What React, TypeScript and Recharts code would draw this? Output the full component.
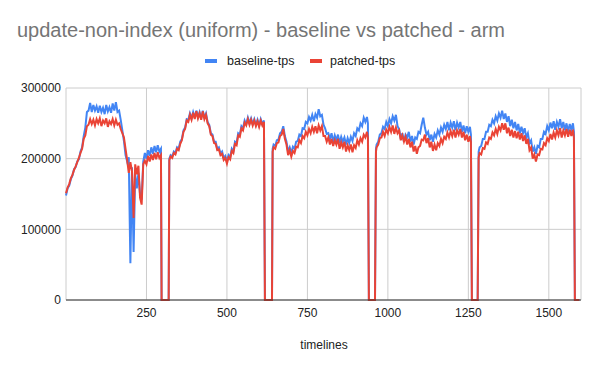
import { CartesianGrid, Line, LineChart, XAxis, YAxis } from "recharts";

const BLUE = "#4285F4";
const RED = "#EA4335";
const GRID = "#cccccc";
const TEXT = "#222222";

// x positions (timeline step), one line of runs per benchmark cycle
const timelines = [
  0, 5, 10, 15, 20, 25, 30, 35, 40, 45,
  50, 55, 60, 65, 70, 75, 80, 85, 90, 95,
  100, 105, 110, 115, 120, 125, 130, 135, 140, 145,
  150, 155, 160, 165, 170, 175, 180, 185, 190, 195,
  200, 205, 210, 215, 220, 225, 230, 235, 240, 245,
  250, 255, 260, 265, 270, 275, 280, 285, 290, 295,
  297, 319,

  321, 325, 330, 335, 340, 345, 350, 355, 360, 365,
  370, 375, 380, 385, 390, 395, 400, 405, 410, 415,
  420, 425, 430, 435, 440, 445, 450, 455, 460, 465,
  470, 475, 480, 485, 490, 495, 500, 505, 510, 515,
  520, 525, 530, 535, 540, 545, 550, 555, 560, 565,
  570, 575, 580, 585, 590, 595, 600, 605, 610, 615,
  618, 640,

  642, 645, 650, 655, 660, 665, 670, 675, 680, 685,
  690, 695, 700, 705, 710, 715, 720, 725, 730, 735,
  740, 745, 750, 755, 760, 765, 770, 775, 780, 785,
  790, 795, 800, 805, 810, 815, 820, 825, 830, 835,
  840, 845, 850, 855, 860, 865, 870, 875, 880, 885,
  890, 895, 900, 905, 910, 915, 920, 925, 930, 935,
  938, 941, 960,

  963, 965, 970, 975, 980, 985, 990, 995, 1000, 1005,
  1010, 1015, 1020, 1025, 1030, 1035, 1040, 1045, 1050, 1055,
  1060, 1065, 1070, 1075, 1080, 1085, 1090, 1095, 1100, 1105,
  1110, 1115, 1120, 1125, 1130, 1135, 1140, 1145, 1150, 1155,
  1160, 1165, 1170, 1175, 1180, 1185, 1190, 1195, 1200, 1205,
  1210, 1215, 1220, 1225, 1230, 1235, 1240, 1245, 1250, 1255,
  1258, 1261, 1279,

  1282, 1285, 1290, 1295, 1300, 1305, 1310, 1315, 1320, 1325,
  1330, 1335, 1340, 1345, 1350, 1355, 1360, 1365, 1370, 1375,
  1380, 1385, 1390, 1395, 1400, 1405, 1410, 1415, 1420, 1425,
  1430, 1435, 1440, 1445, 1450, 1455, 1460, 1465, 1470, 1475,
  1480, 1485, 1490, 1495, 1500, 1505, 1510, 1515, 1520, 1525,
  1530, 1535, 1540, 1545, 1550, 1555, 1560, 1565, 1570, 1575,
  1578, 1581, 1595,
];

const baselineTps = [
  148000, 158000, 162000, 171000, 176000, 185000, 188000, 196000, 199000, 210000,
  216000, 232000, 244000, 266000, 268000, 279000, 266000, 276000, 268000, 274000,
  265000, 275000, 266000, 272000, 263000, 276000, 267000, 273000, 265000, 278000,
  268000, 280000, 266000, 268000, 255000, 240000, 225000, 205000, 196000, 202000,
  52000, 188000, 68000, 178000, 158000, 180000, 150000, 142000, 196000, 208000,
  200000, 212000, 204000, 216000, 207000, 218000, 209000, 219000, 210000, 214000,
  0, 0,

  200000, 205000, 203000, 210000, 208000, 216000, 214000, 224000, 228000, 240000,
  244000, 256000, 255000, 264000, 257000, 266000, 258000, 268000, 259000, 266000,
  257000, 268000, 258000, 264000, 252000, 248000, 236000, 234000, 224000, 224000,
  214000, 216000, 207000, 210000, 201000, 204000, 196000, 205000, 202000, 214000,
  210000, 224000, 222000, 236000, 234000, 246000, 243000, 254000, 249000, 258000,
  250000, 257000, 249000, 256000, 248000, 255000, 247000, 256000, 249000, 254000,
  0, 0,

  214000, 220000, 218000, 226000, 227000, 236000, 238000, 246000, 232000, 224000,
  210000, 216000, 208000, 217000, 214000, 224000, 225000, 234000, 232000, 243000,
  242000, 252000, 250000, 259000, 254000, 262000, 253000, 263000, 258000, 270000,
  260000, 262000, 248000, 243000, 235000, 236000, 228000, 236000, 224000, 233000,
  226000, 234000, 222000, 231000, 224000, 230000, 220000, 229000, 222000, 231000,
  225000, 236000, 232000, 243000, 240000, 250000, 246000, 258000, 252000, 259000,
  250000, 0, 0,

  214000, 220000, 224000, 234000, 236000, 245000, 242000, 252000, 246000, 256000,
  250000, 260000, 254000, 262000, 246000, 242000, 228000, 236000, 224000, 234000,
  230000, 238000, 224000, 232000, 220000, 230000, 228000, 238000, 236000, 248000,
  258000, 244000, 234000, 238000, 226000, 234000, 224000, 235000, 230000, 240000,
  234000, 244000, 238000, 248000, 242000, 252000, 240000, 251000, 244000, 253000,
  240000, 251000, 244000, 252000, 238000, 247000, 236000, 246000, 238000, 245000,
  234000, 0, 0,

  210000, 216000, 218000, 228000, 228000, 238000, 238000, 248000, 246000, 255000,
  250000, 260000, 254000, 264000, 258000, 268000, 256000, 264000, 252000, 260000,
  246000, 255000, 243000, 252000, 240000, 249000, 236000, 245000, 236000, 243000,
  230000, 236000, 222000, 226000, 210000, 216000, 207000, 218000, 216000, 228000,
  228000, 238000, 235000, 246000, 240000, 251000, 243000, 253000, 241000, 252000,
  245000, 256000, 243000, 252000, 240000, 250000, 238000, 249000, 241000, 250000,
  238000, 0, 0,
];

const patchedTps = [
  151000, 159000, 164000, 172000, 177000, 184000, 189000, 195000, 201000, 208000,
  214000, 228000, 233000, 246000, 248000, 256000, 249000, 255000, 247000, 256000,
  250000, 257000, 246000, 254000, 250000, 257000, 245000, 253000, 249000, 256000,
  247000, 255000, 248000, 250000, 242000, 236000, 230000, 214000, 198000, 180000,
  195000, 182000, 116000, 192000, 178000, 190000, 145000, 135000, 192000, 197000,
  192000, 204000, 196000, 206000, 198000, 208000, 199000, 209000, 201000, 205000,
  0, 0,

  198000, 203000, 201000, 208000, 206000, 214000, 212000, 221000, 226000, 238000,
  242000, 254000, 252000, 262000, 255000, 265000, 256000, 267000, 257000, 264000,
  255000, 267000, 256000, 262000, 250000, 246000, 234000, 232000, 222000, 221000,
  212000, 213000, 205000, 207000, 198000, 201000, 193000, 202000, 199000, 211000,
  208000, 221000, 219000, 233000, 231000, 243000, 240000, 251000, 247000, 256000,
  248000, 255000, 247000, 254000, 246000, 253000, 245000, 254000, 247000, 252000,
  0, 0,

  210000, 216000, 214000, 222000, 223000, 232000, 234000, 242000, 228000, 220000,
  205000, 212000, 203000, 211000, 208000, 217000, 216000, 226000, 222000, 232000,
  229000, 238000, 233000, 242000, 236000, 245000, 238000, 246000, 236000, 247000,
  240000, 246000, 232000, 232000, 224000, 230000, 220000, 228000, 218000, 226000,
  220000, 228000, 214000, 223000, 216000, 224000, 210000, 219000, 212000, 220000,
  209000, 219000, 215000, 226000, 220000, 229000, 224000, 234000, 230000, 238000,
  230000, 0, 0,

  210000, 216000, 220000, 229000, 230000, 238000, 232000, 241000, 236000, 245000,
  238000, 247000, 235000, 244000, 236000, 240000, 226000, 233000, 224000, 231000,
  220000, 228000, 216000, 224000, 210000, 218000, 207000, 216000, 218000, 227000,
  226000, 234000, 222000, 229000, 216000, 224000, 211000, 220000, 212000, 222000,
  218000, 228000, 222000, 231000, 228000, 237000, 230000, 239000, 232000, 241000,
  230000, 240000, 234000, 242000, 230000, 238000, 226000, 234000, 224000, 232000,
  224000, 0, 0,

  202000, 208000, 206000, 215000, 214000, 223000, 221000, 230000, 228000, 237000,
  233000, 242000, 235000, 245000, 240000, 250000, 241000, 250000, 236000, 244000,
  232000, 241000, 230000, 239000, 229000, 238000, 227000, 236000, 225000, 233000,
  221000, 228000, 212000, 216000, 200000, 206000, 196000, 206000, 205000, 214000,
  213000, 222000, 219000, 229000, 225000, 235000, 227000, 237000, 230000, 240000,
  233000, 243000, 230000, 240000, 233000, 242000, 231000, 241000, 232000, 241000,
  230000, 0, 0,
];

const xTicks = [250, 500, 750, 1000, 1250, 1500];
const yTicks = [0, 100000, 200000, 300000];

const series = [
  { key: "baseline", name: "baseline-tps", color: BLUE },
  { key: "patched", name: "patched-tps", color: RED },
];

const rows = timelines.map((t, i) => ({
  timeline: t,
  baseline: baselineTps[i],
  patched: patchedTps[i],
}));

export default function App() {
  return (
    <div
      style={{
        position: "absolute",
        left: 0,
        top: 0,
        width: 600,
        height: 371,
        background: "#fff",
        fontFamily: "Arial, 'Liberation Sans', sans-serif",
      }}
    >
      <LineChart
        width={600}
        height={371}
        data={rows}
        margin={{ top: 88, right: 19, bottom: 41, left: 0 }}
      >
        <CartesianGrid stroke={GRID} />
        <XAxis
          dataKey="timeline"
          type="number"
          domain={[0, 1600]}
          ticks={xTicks}
          height={30}
          tickSize={0}
          tickMargin={8}
          tickLine={false}
          axisLine={{ stroke: "#333333" }}
          tick={{ fill: TEXT, fontSize: 12 }}
        />
        <YAxis
          type="number"
          domain={[0, 300000]}
          ticks={yTicks}
          width={66}
          tickSize={0}
          tickMargin={5}
          tickLine={false}
          axisLine={false}
          tick={{ fill: TEXT, fontSize: 12 }}
        />
        {series.map((s) => (
          <Line
            key={s.key}
            type="linear"
            dataKey={s.key}
            name={s.name}
            stroke={s.color}
            strokeWidth={2}
            dot={false}
            isAnimationActive={false}
          />
        ))}
      </LineChart>

      {/* title, legend and axis title drawn on top */}
      <svg
        width={600}
        height={371}
        style={{ position: "absolute", left: 0, top: 0, pointerEvents: "none" }}
      >
        <text x={17} y={37} fontSize={20} fill="#757575">
          update-non-index (uniform) - baseline vs patched - arm
        </text>
        <rect x={205} y={59} width={12} height={4} fill={BLUE} />
        <text x={227} y={65} fontSize={12.5} fill={TEXT}>
          baseline-tps
        </text>
        <rect x={310} y={59} width={12} height={4} fill={RED} />
        <text x={330} y={65} fontSize={12.5} fill={TEXT}>
          patched-tps
        </text>
        <text x={324} y={349} fontSize={12} fill={TEXT} textAnchor="middle">
          timelines
        </text>
      </svg>
    </div>
  );
}
